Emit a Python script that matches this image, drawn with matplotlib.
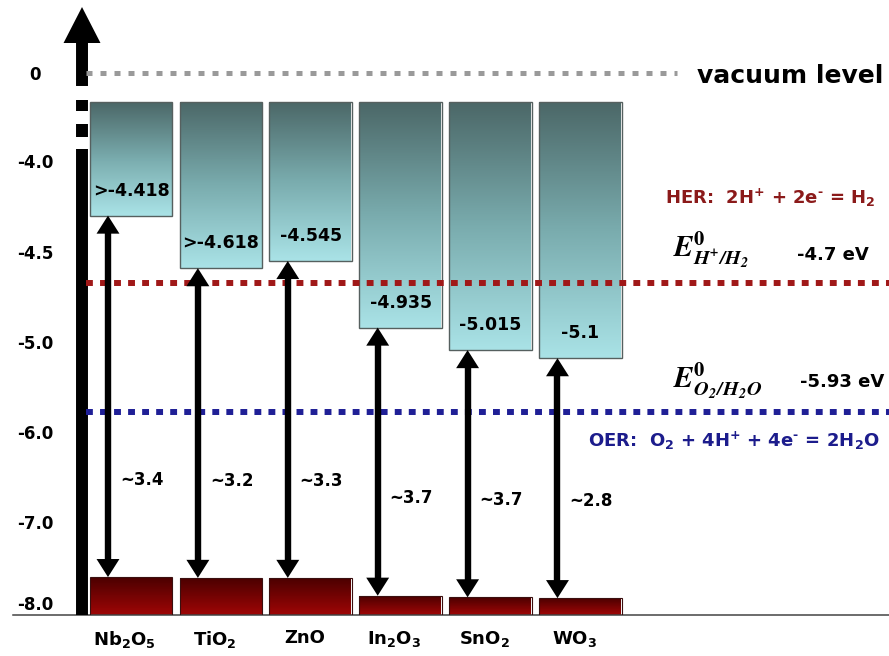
import numpy as np
import matplotlib.pyplot as plt
from matplotlib.colors import LinearSegmentedColormap
from matplotlib.patches import Rectangle, FancyArrowPatch, ArrowStyle

plt.rcParams['font.family'] = ['DejaVu Sans']
plt.rcParams['font.weight'] = 'bold'
plt.rcParams['mathtext.fontset'] = 'dejavusans'
plt.rcParams['mathtext.default'] = 'bf'

# ---------------------------------------------------------------- data
materials = [r'Nb$_2$O$_5$', r'TiO$_2$', 'ZnO', r'In$_2$O$_3$', r'SnO$_2$', r'WO$_3$']
cb_text = ['>-4.418', '>-4.618', '-4.545', '-4.935', '-5.015', '-5.1']
cb_edge = [-4.30, -4.59, -4.55, -4.92, -5.09, -5.18]   # conduction band bottom, as drawn on the axis
vb_edge = [-7.68, -7.69, -7.69, -7.91, -7.93, -7.94]   # valence band top, as drawn on the axis
gap_text = ['~3.4', '~3.2', '~3.3', '~3.7', '~3.7', '~2.8']

energy_ticks = [0, -4.0, -4.5, -5.0, -6.0, -7.0, -8.0]
energy_tick_labels = ['0', '-4.0', '-4.5', '-5.0', '-6.0', '-7.0', '-8.0']

vacuum_level = 0.0
her_level = -4.67
oer_level = -5.78
her_value = '-4.7 eV'
oer_value = '-5.93 eV'

# ---------------------------------------------------------------- layout
W, H = 889, 656
fig = plt.figure(figsize=(W / 100, H / 100), dpi=100)
ax = fig.add_axes([13 / W, 41 / H, 876 / W, 615 / H])

# the energy axis of the schematic is not to scale: piecewise spacing between ticks
# (scale units are screen pixels of the axes height)
knot_e = np.array([-8.15, -8.0, -7.0, -6.0, -5.0, -4.5, -4.0, 0.0, 3.32])
knot_u = np.array([0, 12, 93, 183, 273, 363, 454, 542, 615], dtype=float)


def fwd(e):
    return np.interp(e, knot_e, knot_u)


def inv(u):
    return np.interp(u, knot_u, knot_e)


ax.set_yscale('function', functions=(fwd, inv))
y_bot, y_top = knot_e[0], knot_e[-1]
cb_top = -1.3
box_w = 0.92
arrow_dx = -0.256

x = np.arange(len(materials))
cmap_cb = LinearSegmentedColormap.from_list('cb', ['#a9e2e6', '#79abad', '#4b6767'])
cmap_vb = LinearSegmentedColormap.from_list('vb', ['#9e0606', '#4a0000'])


def gradient_box(x0, x1, lo, hi, cmap):
    # gradient even on screen, whatever the axis spacing
    e_rows = np.linspace(lo, hi, 300)
    t = (fwd(e_rows) - fwd(lo)) / (fwd(hi) - fwd(lo))
    ax.imshow(t[:, None], extent=(x0, x1, lo, hi), origin='lower', cmap=cmap, vmin=0, vmax=1,
              aspect='auto', interpolation='bilinear', zorder=2)


head = ArrowStyle.Simple(head_length=13, head_width=16.5, tail_width=3)

for i in range(len(materials)):
    x0, x1 = x[i] - box_w / 2, x[i] + box_w / 2
    # conduction band block
    gradient_box(x0, x1, cb_edge[i], cb_top, cmap_cb)
    ax.add_patch(Rectangle((x0, cb_edge[i]), box_w, cb_top - cb_edge[i], fill=False,
                           ec='#56605f', lw=1, zorder=3))
    # valence band block
    gradient_box(x0, x1, y_bot, vb_edge[i], cmap_vb)
    ax.add_patch(Rectangle((x0, y_bot), box_w, vb_edge[i] - y_bot, fill=False,
                           ec='#3a1010', lw=0.8, zorder=3))
    # band gap double arrow: one shaft, two heads
    xa = x[i] + arrow_dx
    u_cb, u_vb = fwd(cb_edge[i]), fwd(vb_edge[i])
    ax.plot([xa, xa], [inv(u_cb - 9), inv(u_vb + 9)], color='black', lw=4.6,
            solid_capstyle='butt', zorder=6)
    for ustart, yend in ((u_cb - 24, cb_edge[i]), (u_vb + 24, vb_edge[i])):
        ax.add_patch(FancyArrowPatch((xa, inv(ustart)), (xa, yend), arrowstyle=head, mutation_scale=1,
                                     color='black', lw=0, shrinkA=0, shrinkB=0, zorder=6))
    ax.annotate(gap_text[i], xy=(xa, vb_edge[i]), xytext=(8.6, 70), textcoords='offset points',
                ha='left', va='center', fontsize=12, zorder=7)
    ax.annotate(cb_text[i], xy=(x[i], cb_edge[i]), xytext=(0, 18), textcoords='offset points',
                ha='center', va='center', fontsize=12.5, zorder=7)

# vacuum level and redox potentials
x_line0 = -0.5
xlim = (-1.3126, 8.4316)
ax.plot([x_line0, 6.07], [vacuum_level] * 2, color='#9a9a9a', lw=3.6,
        linestyle=(0, (1.2, 1.6)), zorder=5.5)
ax.plot([x_line0, xlim[1]], [her_level] * 2, color='#a01818', lw=4.3,
        linestyle=(0, (1.15, 1.2)), zorder=5.5)
ax.plot([x_line0, xlim[1]], [oer_level] * 2, color='#1f1f96', lw=4.3,
        linestyle=(0, (1.15, 1.2)), zorder=5.5)

# energy axis drawn as a thick arrow with a break
xa0 = -0.545
ax.plot([xa0, xa0], [y_bot, -3.45], color='black', lw=8.6, solid_capstyle='butt', zorder=5)
for seg in ([-1.23, -1.73], [-2.32, -2.91]):
    ax.plot([xa0, xa0], seg, color='black', lw=8.6, solid_capstyle='butt', zorder=5)
ax.add_patch(FancyArrowPatch((xa0, -0.59), (xa0, 3.0),
                             arrowstyle=ArrowStyle.Simple(head_length=25.9, head_width=26.6, tail_width=8.6),
                             mutation_scale=1, color='black', lw=0, shrinkA=0, shrinkB=0, zorder=5))

ax.set_xlim(*xlim)
ax.set_ylim(y_bot, y_top)
ax.set_yticks(energy_ticks, energy_tick_labels)
ax.tick_params(axis='y', length=0, pad=-15.8, labelsize=12)
for lbl in ax.get_yticklabels():
    lbl.set_horizontalalignment('center')
ax.set_xticks(x - 0.07, materials)
ax.tick_params(axis='x', length=0, pad=10, labelsize=13)
for s in ('left', 'top', 'right'):
    ax.spines[s].set_visible(False)
ax.spines['bottom'].set_color('#444444')
ax.spines['bottom'].set_linewidth(1.1)
ax.set_facecolor('none')


def fpos(px, py):
    return px / W, 1 - py / H


fig.text(*fpos(697, 83), 'vacuum level', fontsize=18, ha='left', va='baseline')
fig.text(*fpos(665, 204), r'HER:  2H$^{+}$ + 2e$^{\text{-}}$ = H$_{2}$', fontsize=13,
         color='#8b1a1a', ha='left', va='baseline')
fig.text(*fpos(673, 257), r'$\mathbfit{E}^{\mathbf{0}}_{\mathbfit{H^{+}/H_{2}}}$', fontsize=21,
         math_fontfamily='stix', ha='left', va='baseline')
fig.text(*fpos(797, 260), her_value, fontsize=13, ha='left', va='baseline')
fig.text(*fpos(673, 388), r'$\mathbfit{E}^{\mathbf{0}}_{\mathbfit{O_{2}/H_{2}O}}$', fontsize=21,
         math_fontfamily='stix', ha='left', va='baseline')
fig.text(*fpos(800, 387), oer_value, fontsize=13, ha='left', va='baseline')
fig.text(*fpos(588, 447), r'OER:  O$_{2}$ + 4H$^{+}$ + 4e$^{\text{-}}$ = 2H$_{2}$O', fontsize=13,
         color='#1c1c8c', ha='left', va='baseline')

fig.savefig('out.png', dpi=100)
